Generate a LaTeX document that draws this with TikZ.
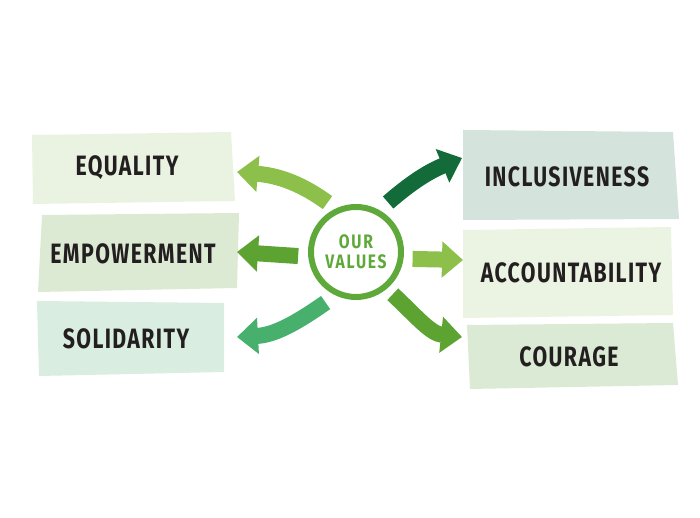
\documentclass[tikz,border=0pt]{standalone}
\usepackage{fontspec}
\setmainfont{Fira Sans}
\newfontfamily\boxfont{Fira Sans}[FakeStretch=0.76, LetterSpace=5]
\newfontfamily\hubfont{Fira Sans}[FakeStretch=0.8, LetterSpace=9]
\usetikzlibrary{arrows.meta, positioning, calc}
\definecolor{inkdark}{HTML}{231F20}
\definecolor{hubgreen}{HTML}{5FA83A}
\definecolor{limegreen}{HTML}{8CC04A}
\definecolor{midgreen}{HTML}{5DA332}
\definecolor{mintgreen}{HTML}{46B06C}
\definecolor{deepgreen}{HTML}{146B3A}
\definecolor{eqfill}{HTML}{EAF2E1}
\definecolor{empfill}{HTML}{DCEAD3}
\definecolor{solfill}{HTML}{D9EDE1}
\definecolor{incfill}{HTML}{D4E4DC}
\definecolor{accfill}{HTML}{EBF3E2}
\definecolor{courfill}{HTML}{DBEAD4}

\begin{document}
\begin{tikzpicture}[
    x=1pt, y=1pt,
    every node/.style={inner sep=0pt},
    valtext/.style={font=\boxfont\fontsize{28}{30}\selectfont\bfseries, text=inkdark},
    hub/.style={
        circle, draw=hubgreen, line width=6pt, minimum size=90pt,
        font=\hubfont\fontsize{19.5}{20.5}\selectfont\bfseries, text=hubgreen,
        align=center
    },
    varrow/.style={line width=16pt, -{Triangle[length=21pt, width=35pt]}},
]
\useasboundingbox (0,0) rectangle (700,518);

% ============ LEFT: value boxes ============
\fill[eqfill] (32,383) -- (231,386) -- (235,317) -- (33,314) -- cycle;
\node[valtext] (equality) at (127,350) {EQUALITY};

\fill[empfill] (42,303) -- (239,305) -- (237,230) -- (38,226) -- cycle;
\node[valtext] (empowerment) at (133,264) {EMPOWERMENT};

\fill[solfill] (37,217) -- (224,215) -- (224,146) -- (39,142) -- cycle;
\node[valtext] (solidarity) at (126,179) {SOLIDARITY};

% ============ RIGHT: value boxes ============
\fill[incfill] (463,388) -- (673,386) -- (679,299) -- (463,298) -- cycle;
\node[valtext] (inclusiveness) at (567,341) {INCLUSIVENESS};

\fill[accfill] (463,288) -- (671,291) -- (673,203) -- (463,200) -- cycle;
\node[valtext] (accountability) at (571,245) {ACCOUNTABILITY};

\fill[courfill] (467,193) -- (673,195) -- (678,133) -- (470,129) -- cycle;
\node[valtext] (courage) at (569,161) {COURAGE};

% ============ CENTRE ============
\node[hub] (vals) at (356,266) {OUR\\VALUES};

% arrow tips at the box edges
\coordinate (eqport) at (237,346);
\coordinate (empport) at (237,266);
\coordinate (solport) at (237,181);
\coordinate (incport) at (462,360);
\coordinate (accport) at (463,258);
\coordinate (courport) at (462,181);

% Arrows
\draw[varrow, limegreen] ($(vals.center)+(120:57)$) to[out=144, in=-5] (eqport);
\draw[varrow, midgreen] ($(vals.center)+(184:58)$) -- (empport);
\draw[varrow, mintgreen] ($(vals.center)+(239:59)$) to[out=215, in=3] (solport);
\draw[varrow, deepgreen] ($(vals.center)+(57:59)$) to[out=41, in=202] (incport);
\draw[varrow, limegreen] ($(vals.center)+(-7:57)$) -- (accport);
\draw[varrow, midgreen] ($(vals.center)+(-49:56)$) to[out=-43, in=174] (courport);

\end{tikzpicture}
\end{document}
